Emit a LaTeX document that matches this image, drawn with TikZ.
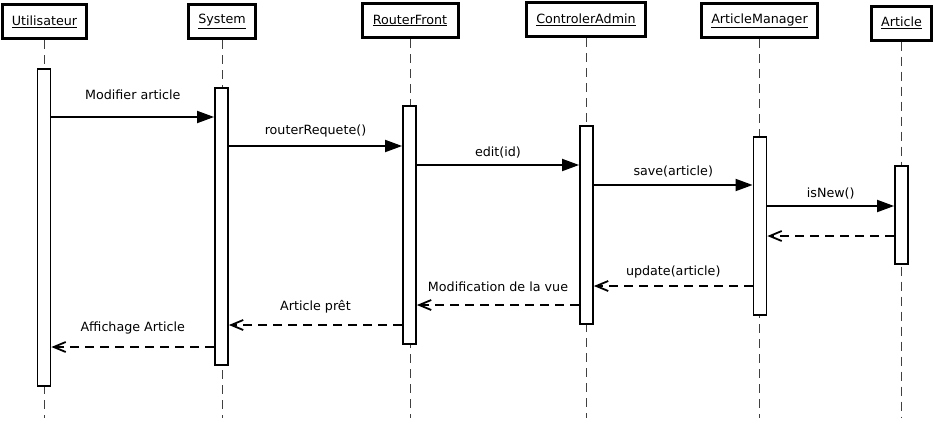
\documentclass[tikz,border=0pt]{standalone}
\usepackage{fontspec}
\setmainfont{DejaVu Sans}
\usetikzlibrary{arrows.meta}

\begin{document}
\begin{tikzpicture}[x=1pt,y=-1pt,
    font=\fontsize{12.7}{15}\selectfont,
    objet/.style={draw,line width=3pt,minimum height=34pt,inner sep=0pt},
    activ/.style={draw,fill=white,line width=1.8pt,minimum width=13pt,inner sep=0pt},
    vie/.style={line width=1pt,black!75,dash pattern=on 9pt off 6pt},
    appel/.style={line width=1.8pt,-{Triangle[length=17pt,width=12pt]}},
    retour/.style={line width=1.8pt,dash pattern=on 9pt off 6pt,-{Straight Barb[length=12pt,width=10pt]}},
    lbl/.style={inner sep=0pt,text height=9.5pt,text depth=2.5pt}]
    \useasboundingbox (0,0) rectangle (935,426);

    % objets
    \node[objet,minimum width=84pt] (u) at (44.5,21.5) {\underline{Utilisateur}};
    \node[objet,minimum width=67pt] (s) at (222,21.5) {\underline{System}};
    \node[objet,minimum width=96pt] (r) at (410,20.5) {\underline{RouterFront}};
    \node[objet,minimum width=119pt] (c) at (586,19.5) {\underline{ControlerAdmin}};
    \node[objet,minimum width=116pt] (m) at (759.5,20.5) {\underline{ArticleManager}};
    \node[objet,minimum width=60pt] (a) at (901.5,23) {\underline{Article}};

    % lignes de vie
    \draw[vie] (u.south) -- (u.south |- 0,418);
    \draw[vie] (s.south) -- (s.south |- 0,418);
    \draw[vie] (r.south) -- (r.south |- 0,418);
    \draw[vie] (c.south) -- (c.south |- 0,418);
    \draw[vie] (m.south) -- (m.south |- 0,418);
    \draw[vie] (a.south) -- (a.south |- 0,418);

    % activations
    \node[activ,minimum height=317pt] (ua) at (44,227.5) {};
    \node[activ,minimum height=277pt] (sa) at (221.5,226.5) {};
    \node[activ,minimum height=238pt] (ra) at (409.5,225) {};
    \node[activ,minimum height=198pt] (ca) at (586.5,225) {};
    \node[activ,minimum height=178pt] (ma) at (760,226) {};
    \node[activ,minimum height=98pt] (aa) at (901.5,215) {};

    % messages
    \draw[appel] (ua.east |- 0,117) -- node[lbl,above=14.5pt] {Modifier article} (sa.west |- 0,117);
    \draw[appel] (sa.east |- 0,146) -- node[lbl,above=8.5pt] {routerRequete()} (ra.west |- 0,146);
    \draw[appel] (ra.east |- 0,165) -- node[lbl,above=5pt] {edit(id)} (ca.west |- 0,165);
    \draw[appel] (ca.east |- 0,185) -- node[lbl,above=6pt] {save(article)} (ma.west |- 0,185);
    \draw[appel] (ma.east |- 0,206) -- node[lbl,above=5pt] {isNew()} (aa.west |- 0,206);
    \draw[retour] (aa.west |- 0,236) -- (ma.east |- 0,236);
    \draw[retour] (ma.west |- 0,286) -- node[lbl,above=7pt] {update(article)} (ca.east |- 0,286);
    \draw[retour] (ca.west |- 0,305) -- node[lbl,above=10pt] {Modification de la vue} (ra.east |- 0,305);
    \draw[retour] (ra.west |- 0,325) -- node[lbl,above=11pt] {Article prêt} (sa.east |- 0,325);
    \draw[retour] (sa.west |- 0,347) -- node[lbl,above=12pt] {Affichage Article} (ua.east |- 0,347);
\end{tikzpicture}
\end{document}
